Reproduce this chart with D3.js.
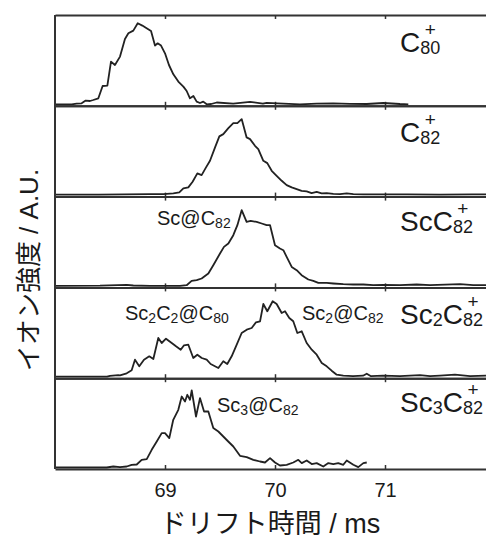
<!DOCTYPE html>
<html><head><meta charset="utf-8">
<script src="https://cdn.jsdelivr.net/npm/d3@7/dist/d3.min.js"></script>
<style>body{margin:0;background:#fff}svg{display:block}</style>
</head><body><svg id="c" width="486" height="539"></svg>
<script>
// ---- data ----
const xTicks = [69, 70, 71, 72];
const xTickLabels = ["69", "70", "71", ""];
const xTitle = "ドリフト時間 / ms";
const yTitle = "イオン強度 / A.U.";

const c80T = [68.000,68.091,68.152,68.197,68.242,68.279,68.318,68.348,68.394,68.433,68.476,68.509,68.545,68.591,68.636,68.667,68.712,68.752,68.794,68.833,68.873,68.909,68.933,68.964,69.000,69.036,69.076,69.121,69.167,69.197,69.227,69.258,69.288,69.318,69.348,69.379,69.420,69.470,69.620,69.773,69.890,69.924,70.076,70.227,70.379,70.530,70.682,70.834,70.985,71.061,71.136,71.212];
const c80V = [0,0,0,0.7,1,3.7,3.3,4.3,6,18.3,18.7,42.7,39.3,47.7,65.3,71,73.7,81,78.7,76,73.3,58.7,61,58.7,51,39.3,30,22.7,17.7,13.3,6,8.3,2.7,1.3,2.7,0,0.3,1.8,0.6,2.5,0.6,1.5,0.6,0,0.6,1,0.5,0.3,1.3,0.8,0.3,0];

const c82T = [68.000,68.400,68.864,68.985,69.076,69.130,69.167,69.212,69.251,69.294,69.333,69.373,69.409,69.455,69.494,69.530,69.576,69.621,69.658,69.697,69.742,69.773,69.818,69.848,69.894,69.930,69.970,70.015,70.061,70.106,70.152,70.197,70.242,70.288,70.333,70.379,70.424,70.470,70.530,70.591,70.652,70.712,70.803,70.864,71.200,71.500,71.800,72.000];
const c82V = [0.5,0.5,1,1,1.7,2.7,6.7,7.7,13.3,21.7,20,27.7,34.3,47.7,58.7,61,67,72,72,76,57.7,56,49.3,46,34.3,32,24.3,19.3,14.3,10,7.7,6,4.3,3.7,2,3.3,1.7,2,1.3,1,1.7,1,0.7,0.7,0.8,0.5,0.8,0.6];

const scC82T = [68.000,68.409,68.652,68.712,68.864,69.136,69.197,69.242,69.288,69.333,69.394,69.439,69.500,69.536,69.576,69.621,69.658,69.697,69.742,69.779,69.833,69.879,69.924,69.955,70.000,70.045,70.076,70.106,70.152,70.197,70.242,70.303,70.348,70.394,70.470,70.530,70.621,70.712,70.803,70.894,70.985,71.136,71.288,71.409,71.682,71.803,71.918];
const scC82V = [0,0.2,1,0.4,0,0,0.7,5,5.7,7.4,12.4,20.7,32.4,39,42.4,50.7,60.7,75.7,64,65,64,62.4,60.7,60.7,40.7,37.4,35.7,29,19,15.7,10.7,6.4,5,3,3,2.4,1.7,1.4,1.4,0.7,1,0.7,1.4,0.7,1.7,0.7,0.7];

const sc2C82T = [68.000,68.318,68.473,68.500,68.575,68.591,68.652,68.697,68.727,68.766,68.809,68.857,68.894,68.939,68.970,69.009,69.061,69.100,69.143,69.173,69.212,69.257,69.294,69.334,69.379,69.415,69.485,69.530,69.566,69.606,69.652,69.697,69.743,69.788,69.827,69.864,69.894,69.930,69.979,70.015,70.061,70.091,70.130,70.166,70.203,70.243,70.288,70.334,70.379,70.425,70.470,70.515,70.561,70.621,70.709,70.800,70.834,70.873,70.982,71.136,71.318,71.409,71.500,71.636,71.773,71.918];
const sc2C82V = [0,0,0,0.8,1.5,1.4,3.4,6.4,17,10.4,17,20.4,17.7,38.7,33.7,38,33.7,30.4,27,31.4,32,18.7,22,18.7,17,12.7,8.7,15.4,12.7,20.4,32,43.7,47,48.7,54.4,55.4,72.7,65.4,75.4,72.7,63.7,65.4,58.7,55.4,43.7,45.4,33.7,27,22,13.7,10.4,6,2,1,0.5,1,3,0.5,1,0.5,1.5,0.5,1,2,0.5,1];

const sc3C82T = [68.000,68.470,68.530,68.591,68.652,68.697,68.743,68.788,68.834,68.879,68.925,68.970,69.000,69.039,69.075,69.121,69.152,69.182,69.203,69.227,69.243,69.282,69.318,69.355,69.394,69.439,69.485,69.530,69.575,69.621,69.682,69.743,69.803,69.864,69.909,69.955,70.000,70.045,70.106,70.166,70.212,70.243,70.288,70.334,70.379,70.439,70.485,70.530,70.575,70.621,70.652,70.712,70.757,70.803,70.834];
const sc3C82V = [0,0,1,0.4,1,2.7,3,7.7,8.4,17.7,26,34.4,34.4,29.4,47.7,57.7,71,66,72.7,67.7,77,51,69.4,56,56,39.4,36,31,26,21,11.7,10.4,7.7,6,5,9.4,5,2,2.7,5,7.7,4.4,7,3.4,4.4,1,4.4,3.4,4.4,2.7,7,2.7,0.4,4.4,5];

// label segments: [text, isSubscript]
const panelLabels = [
  [["C",0],["80",1]],
  [["C",0],["82",1]],
  [["ScC",0],["82",1]],
  [["Sc",0],["2",1],["C",0],["82",1]],
  [["Sc",0],["3",1],["C",0],["82",1]]
];
const annotations = [
  {panel:2, segs:[["Sc@C",0],["82",1]]},
  {panel:3, segs:[["Sc",0],["2",1],["C",0],["2",1],["@C",0],["80",1]]},
  {panel:3, segs:[["Sc",0],["2",1],["@C",0],["82",1]]},
  {panel:4, segs:[["Sc",0],["3",1],["@C",0],["82",1]]}
];
const seriesT = [c80T, c82T, scC82T, sc2C82T, sc3C82T];
const seriesV = [c80V, c82V, scC82V, sc2C82V, sc3C82V];

// ---- layout ----
const svg = d3.select("#c");
const FONT = "'Liberation Sans', Arial, 'Noto Sans CJK JP', sans-serif";
const left = 55, right = 495, top0 = 15, ph = 90.8, n = 5;
const x = d3.scaleLinear().domain([68, 72]).range([left, right]);
const labelOffsets = [37, 36, 34.5, 36.5, 33.5];
const annPos = [{x:157, dy:28.4}, {x:125, dy:32.6}, {x:302, dy:32.6}, {x:217, dy:33.5}];

function richText(g, px, py, segs, size, subSize, subDy) {
  const t = g.append("text").attr("x", px).attr("y", py)
    .attr("font-size", size).attr("font-family", FONT).attr("fill", "#1a1a1a");
  let prevSub = false;
  segs.forEach(([s, isSub]) => {
    const ts = t.append("tspan").text(s);
    if (isSub) { ts.attr("font-size", subSize); if (!prevSub) ts.attr("dy", subDy); }
    else if (prevSub) ts.attr("dy", -subDy);
    prevSub = !!isSub;
  });
  return t;
}

for (let i = 0; i < n; i++) {
  const top = top0 + i * ph, bottom = top + ph;
  const y = d3.scaleLinear().domain([0, 89]).range([bottom - 1.5, bottom - 90.5]);
  const g = svg.append("g");
  const ta = g.append("g").attr("transform", `translate(0,${top})`)
    .call(d3.axisTop(x).tickValues(xTicks).tickSize(-4).tickSizeOuter(0).tickFormat(""));
  const ba = g.append("g").attr("transform", `translate(0,${bottom})`)
    .call(d3.axisBottom(x).tickValues(xTicks).tickSize(-4).tickSizeOuter(0)
      .tickFormat((d, k) => i === n - 1 ? xTickLabels[k] : ""));
  [ta, ba].forEach(a => {
    a.select(".domain").attr("stroke", "#333").attr("stroke-width", 2);
    a.selectAll(".tick line").attr("stroke", "#333").attr("stroke-width", 1.5);
  });
  ba.selectAll(".tick text").attr("font-size", 20).attr("font-family", FONT)
    .attr("fill", "#1a1a1a").attr("dy", "0").attr("y", 27.5);
  const pts = seriesT[i].map((t, k) => [t, seriesV[i][k]]);
  g.append("path").datum(pts)
    .attr("d", d3.line().x(d => x(d[0])).y(d => y(d[1])))
    .attr("fill", "none").attr("stroke", "#222").attr("stroke-width", 1.8)
    .attr("stroke-linejoin", "round");
  const lbl = richText(g, 400, top + labelOffsets[i], panelLabels[i], 28, 18, 2);
  const node = lbl.node();
  const total = node.getNumberOfChars();
  const lastSub = panelLabels[i][panelLabels[i].length - 1][0];
  const s0 = node.getStartPositionOfChar(total - lastSub.length).x;
  const e0 = node.getEndPositionOfChar(total - 1).x;
  g.append("text").attr("x", (s0 + e0) / 2).attr("y", top + labelOffsets[i] - 16)
    .attr("text-anchor", "middle").attr("font-size", 19).attr("font-family", FONT)
    .attr("fill", "#1a1a1a").text("+");
}

svg.append("line").attr("x1", left).attr("x2", left).attr("y1", top0).attr("y2", top0 + n * ph)
  .attr("stroke", "#333").attr("stroke-width", 2);

annotations.forEach((a, k) => {
  const top = top0 + a.panel * ph;
  richText(svg, annPos[k].x, top + annPos[k].dy, a.segs, 20, 14, 3);
});

svg.append("text").attr("x", 270).attr("y", 533).attr("text-anchor", "middle")
  .attr("font-size", 27).attr("font-family", FONT).attr("fill", "#1a1a1a").text(xTitle);
svg.append("text").attr("transform", "translate(38,270) rotate(-90)").attr("text-anchor", "middle")
  .attr("font-size", 26).attr("font-family", FONT).attr("fill", "#1a1a1a").text(yTitle);
</script>
</body></html>
